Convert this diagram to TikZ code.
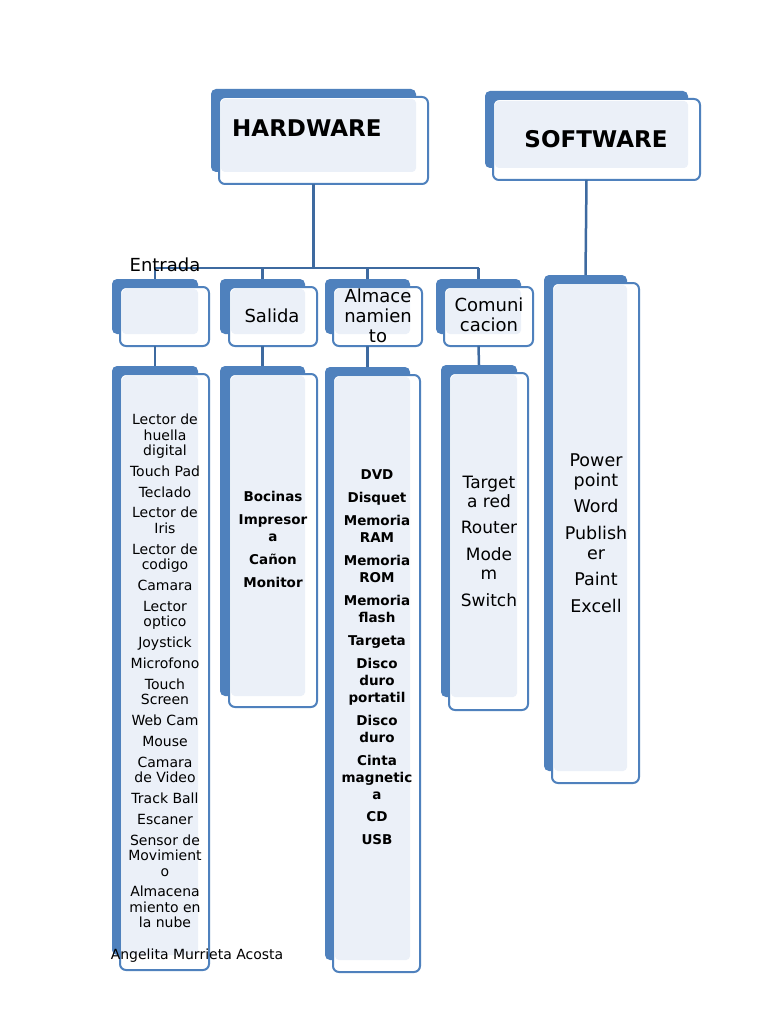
\documentclass[tikz,border=0pt]{standalone}
\usepackage{fontspec}
\setmainfont{DejaVu Sans}
\definecolor{bb}{HTML}{4F81BD}
\definecolor{lt}{HTML}{EBF0F8}
\definecolor{ln}{HTML}{3E6AA0}
\tikzset{
  backbox/.style={rectangle, fill=bb, rounded corners=5pt, inner sep=0pt, outer sep=0pt},
  frontbox/.style={rectangle, draw=bb, line width=2pt, fill=white, rounded corners=6pt, inner sep=0pt, outer sep=0pt},
  conn/.style={draw=ln, line width=2.5pt},
  lbl/.style={align=center, inner sep=0pt, text=black},
  head/.style={lbl, font=\fontsize{23}{27}\selectfont\bfseries},
  small/.style={lbl, font=\fontsize{18}{20}\selectfont},
}
\newcommand\boxpair[9]{%
  \node[backbox, minimum width={(#4-#2)*1pt}, minimum height={(#5-#3)*1pt}] (#1-b) at ({(#2+#4)/2},{(#3+#5)/2}) {};
  \node[frontbox, minimum width={(#8-#6)*1pt}, minimum height={(#9-#7)*1pt}] (#1) at ({(#6+#8)/2},{(#7+#9)/2}) {};
  \fill[lt, rounded corners=4pt] ({#6+2},{#7+2}) rectangle (#4,#5);
}
\begin{document}
\begin{tikzpicture}[x=1pt,y=-1pt]
\useasboundingbox[fill=white] (0,0) rectangle (768,1024);
% boxes
\boxpair{hw}{211}{89}{416}{172}{219}{97}{428}{184}
\boxpair{sw}{485}{91}{688}{168}{493}{99}{700}{180}
\boxpair{ent}{112}{279}{198}{334}{120}{287}{209}{346}
\boxpair{sal}{220}{279}{305}{334}{229}{287}{317}{346}
\boxpair{alm}{325}{279}{410}{334}{333}{287}{422}{346}
\boxpair{com}{436}{279}{521}{334}{444}{287}{533}{346}
\boxpair{entl}{112}{366}{198}{955}{120}{374}{209}{970}
\boxpair{sall}{220}{366}{305}{696}{229}{374}{317}{707}
\boxpair{alml}{325}{367}{410}{960}{333}{375}{420}{972}
\boxpair{coml}{441}{365}{517}{697}{449}{373}{528}{710}
\boxpair{swl}{544}{275}{627}{771}{552}{283}{639}{783}
% connectors
\coordinate (bus) at (314,268);
\draw[conn] (hw-b.south |- hw.south) -- (hw-b.south |- bus);
\draw[conn] (ent-b.north |- bus) -- (com-b.north |- bus);
\draw[conn] (ent-b.north |- bus) -- (ent-b.north);
\draw[conn] (sal-b.north |- bus) -- (sal-b.north);
\draw[conn] (alm-b.north |- bus) -- (alm-b.north);
\draw[conn] (com-b.north |- bus) -- (com-b.north);
\draw[conn] (ent-b.south |- ent.south) -- (entl-b.north);
\draw[conn] (sal-b.south |- sal.south) -- (sall-b.north);
\draw[conn] (alm-b.south |- alm.south) -- (alml-b.north);
\draw[conn] (com-b.south |- com.south) -- (coml-b.north);
\draw[conn] (sw-b.south |- sw.south) -- (swl-b.north);
% texts
\node[head, anchor=west] (hw-t) at (232,128) {HARDWARE};
\node[head] (sw-t) at (596,139) {SOFTWARE};
\node[small] (ent-t) at (165,265) {Entrada};
\node[small] (sal-t) at (272,316) {Salida};
\node[small] (alm-t) at (378,316) {Almace\\namien\\to};
\node[small] (com-t) at (489,315) {Comuni\\cacion};
\node[lbl, font=\fontsize{14}{15.5}\selectfont] (entl-t) at (165,671) {Lector de\\huella\\digital\\[5.3pt]Touch Pad\\[5.3pt]Teclado\\[5.3pt]Lector de\\Iris\\[5.3pt]Lector de\\codigo\\[5.3pt]Camara\\[5.3pt]Lector\\optico\\[5.3pt]Joystick\\[5.3pt]Microfono\\[5.3pt]Touch\\Screen\\[5.3pt]Web Cam\\[5.3pt]Mouse\\[5.3pt]Camara\\de Video\\[5.3pt]Track Ball\\[5.3pt]Escaner\\[5.3pt]Sensor de\\Movimient\\o\\[5.3pt]Almacena\\miento en\\la nube};
\node[lbl, font=\fontsize{13.5}{17}\selectfont\bfseries] (sall-t) at (273,539.5) {Bocinas\\[5.7pt]Impresor\\a\\[5.7pt]Cañon\\[5.7pt]Monitor};
\node[lbl, font=\fontsize{13.5}{17}\selectfont\bfseries] (alml-t) at (377,657.5) {DVD\\[5.9pt]Disquet\\[5.9pt]Memoria\\RAM\\[5.9pt]Memoria\\ROM\\[5.9pt]Memoria\\flash\\[5.9pt]Targeta\\[5.9pt]Disco\\duro\\portatil\\[5.9pt]Disco\\duro\\[5.9pt]Cinta\\magnetic\\a\\[5.9pt]CD\\[5.9pt]USB};
\node[lbl, font=\fontsize{17}{19.5}\selectfont] (coml-t) at (489,541) {Target\\a red\\[6.8pt]Router\\[6.8pt]Mode\\m\\[6.8pt]Switch};
\node[lbl, font=\fontsize{17.5}{20}\selectfont] (swl-t) at (596,533) {Power\\point\\[6.5pt]Word\\[6.5pt]Publish\\er\\[6.5pt]Paint\\[6.5pt]Excell};
\node[lbl, font=\fontsize{14}{16}\selectfont] (foot) at (197,956) {Angelita Murrieta Acosta};
\end{tikzpicture}
\end{document}
